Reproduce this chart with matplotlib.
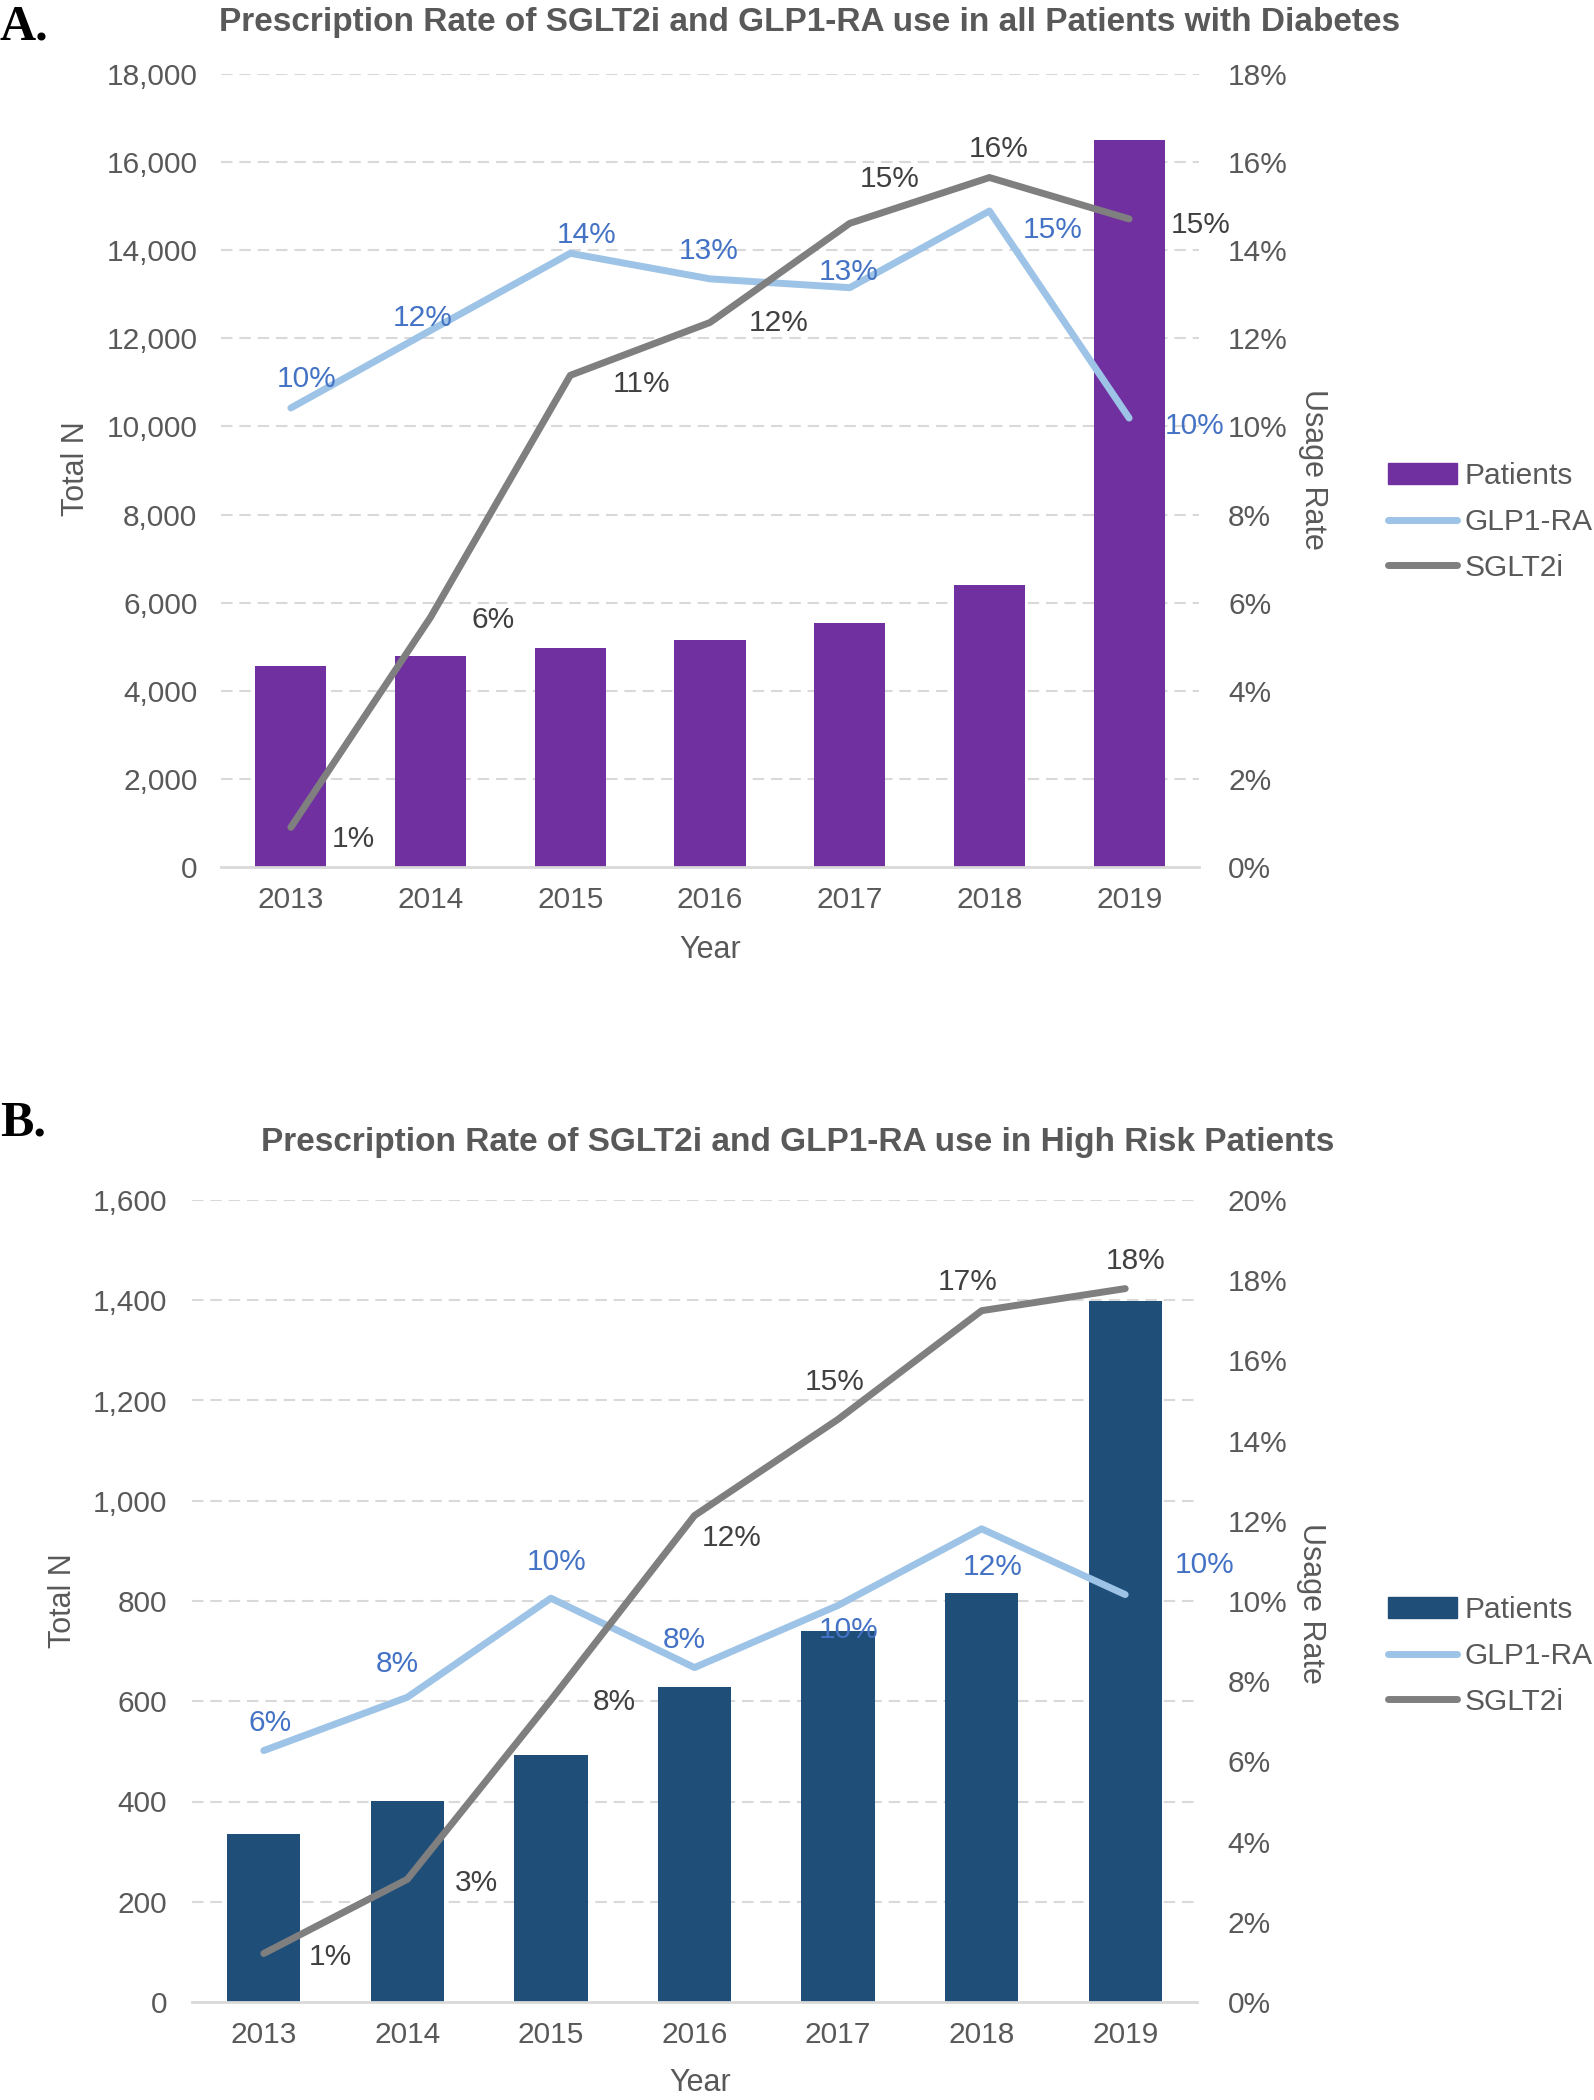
import matplotlib.pyplot as plt
from matplotlib.patches import Patch
from matplotlib.lines import Line2D

plt.rcParams['font.family'] = ['Liberation Sans', 'DejaVu Sans']

years = ['2013', '2014', '2015', '2016', '2017', '2018', '2019']

# panel A - all patients with diabetes
patients_all = [4563, 4796, 4971, 5146, 5541, 6391, 16496]
glp1_all = [10.42, 12.18, 13.93, 13.35, 13.15, 14.89, 10.19]
sglt2_all = [0.9, 5.67, 11.16, 12.36, 14.61, 15.65, 14.71]

# panel B - high risk patients
patients_high = [335, 401, 492, 628, 740, 815, 1399]
glp1_high = [6.27, 7.6, 10.07, 8.34, 9.89, 11.8, 10.16]
sglt2_high = [1.21, 3.06, 7.53, 12.13, 14.53, 17.24, 17.79]

W, H = 1594, 2100
GREY_TXT = '#595959'
GRID = '#D9D9D9'
C_GLP = '#9DC3E6'
C_SGLT = '#7F7F7F'
C_GLP_LBL = '#4472C4'
C_SGLT_LBL = '#404040'
FS = 21.5

# label offsets in pixels (x right, y down) from each point
glp_off_a = [(16, -29), (-8, -12), (16, -18), (-1, -28), (-1, -16), (63, 19), (65, 8)]
sglt_off_a = [(63, 12), (63, 3), (71, 9), (69, 1), (40, -44), (9, -29), (72, 6)]
glp_off_b = [(6, -28), (-10, -33), (6, -36), (-10, -28), (11, 25), (11, 38), (79, -30)]
sglt_off_b = [(67, 4), (69, 4), (63, 2), (37, 22), (-3, -37), (-14, -29), (10, -28)]


def fx(x):
    return x / W


def fy(y):
    return 1 - y / H


def panel(box, patients, glp1, sglt2, bar_color, nmax, nstep, rmax,
          glp_off, sglt_off, ypad_l, ypad_r):
    left, top, right, bottom = box
    ax = fig.add_axes([fx(left), fy(bottom), fx(right) - fx(left), fy(top) - fy(bottom)])
    x = list(range(len(years)))
    ax.bar(x, patients, width=0.51, color=bar_color, zorder=2)
    ax.set_xlim(-0.5, len(years) - 0.5)
    ax.set_ylim(0, nmax)
    ax.set_yticks(range(0, nmax + 1, nstep))
    ax.set_yticklabels([f'{v:,}' for v in range(0, nmax + 1, nstep)])
    ax.set_xticks(x)
    ax.set_xticklabels(years)
    for v in range(nstep, nmax + 1, nstep):
        ax.axhline(v, color=GRID, lw=1.5, ls=(0, (5.5, 3.3)), zorder=1)
    for s in ['top', 'left', 'right']:
        ax.spines[s].set_visible(False)
    ax.spines['bottom'].set_color(GRID)
    ax.spines['bottom'].set_linewidth(2)
    ax.tick_params(axis='y', length=0, labelsize=FS, labelcolor=GREY_TXT, pad=ypad_l)
    ax.tick_params(axis='x', length=0, labelsize=FS, labelcolor=GREY_TXT, pad=14)

    ax2 = ax.twinx()
    ax2.set_ylim(0, rmax)
    ax2.set_yticks(range(0, rmax + 1, 2))
    ax2.set_yticklabels([f'{v}%' for v in range(0, rmax + 1, 2)])
    ax2.tick_params(axis='y', length=0, labelsize=FS, labelcolor=GREY_TXT, pad=ypad_r)
    for s in ax2.spines.values():
        s.set_visible(False)
    ax2.plot(x, glp1, color=C_GLP, lw=5, solid_capstyle='round', solid_joinstyle='round', zorder=3)
    ax2.plot(x, sglt2, color=C_SGLT, lw=5, solid_capstyle='round', solid_joinstyle='round', zorder=4)
    for i in x:
        ax2.annotate(f'{glp1[i]:.0f}%', (i, glp1[i]), xytext=(glp_off[i][0], -glp_off[i][1]),
                     textcoords='offset pixels', ha='center', va='center',
                     fontsize=FS, color=C_GLP_LBL, zorder=6)
        ax2.annotate(f'{sglt2[i]:.0f}%', (i, sglt2[i]), xytext=(sglt_off[i][0], -sglt_off[i][1]),
                     textcoords='offset pixels', ha='center', va='center',
                     fontsize=FS, color=C_SGLT_LBL, zorder=6)
    return ax, ax2


fig = plt.figure(figsize=(W / 100, H / 100), dpi=100)

axA, axA2 = panel((221, 74, 1199, 867), patients_all, glp1_all, sglt2_all, '#7030A0',
                  18000, 2000, 18, glp_off_a, sglt_off_a, 17, 21)
axB, axB2 = panel((192, 1200, 1197, 2002), patients_high, glp1_high, sglt2_high, '#1F4E79',
                  1600, 200, 20, glp_off_b, sglt_off_b, 18, 22)

# titles and panel letters
fig.text(fx(810), fy(22), 'Prescription Rate of SGLT2i and GLP1-RA use in all Patients with Diabetes',
         ha='center', va='center', fontsize=24, fontweight='bold', color=GREY_TXT)
fig.text(fx(798), fy(1143), 'Prescription Rate of SGLT2i and GLP1-RA use in High Risk Patients',
         ha='center', va='center', fontsize=24, fontweight='bold', color=GREY_TXT)
fig.text(fx(0), fy(4), 'A.', ha='left', va='top', fontsize=36, fontweight='bold',
         family=['Liberation Serif', 'DejaVu Serif'], color='black')
fig.text(fx(0), fy(1100), 'B.', ha='left', va='top', fontsize=36, fontweight='bold',
         family=['Liberation Serif', 'DejaVu Serif'], color='black')

# axis labels
for (xl, yl), (xr, yr), (xy, yy) in [((76, 469), (1313, 469), (710, 950)),
                                      ((63, 1601), (1311, 1603), (700, 2083))]:
    fig.text(fx(xl), fy(yl), 'Total N', rotation=90, ha='center', va='center',
             fontsize=22, color=GREY_TXT)
    fig.text(fx(xr), fy(yr), 'Usage Rate', rotation=270, ha='center', va='center',
             fontsize=22, color=GREY_TXT)
    fig.text(fx(xy), fy(yy), 'Year', ha='center', va='center', fontsize=22, color=GREY_TXT)

# legends
for bar_color, ly in [('#7030A0', 522), ('#1F4E79', 1656)]:
    handles = [Patch(color=bar_color), Line2D([], [], color=C_GLP, lw=5, solid_capstyle='round'),
               Line2D([], [], color=C_SGLT, lw=5, solid_capstyle='round')]
    leg = fig.legend(handles, ['Patients', 'GLP1-RA', 'SGLT2i'], loc='center left',
                     bbox_to_anchor=(fx(1388), fy(ly)), frameon=False, fontsize=FS,
                     handlelength=2.3, handletextpad=0.25, labelspacing=0.6,
                     borderpad=0, borderaxespad=0)
    for t in leg.get_texts():
        t.set_color(GREY_TXT)

fig.savefig('out.png', dpi=100)
